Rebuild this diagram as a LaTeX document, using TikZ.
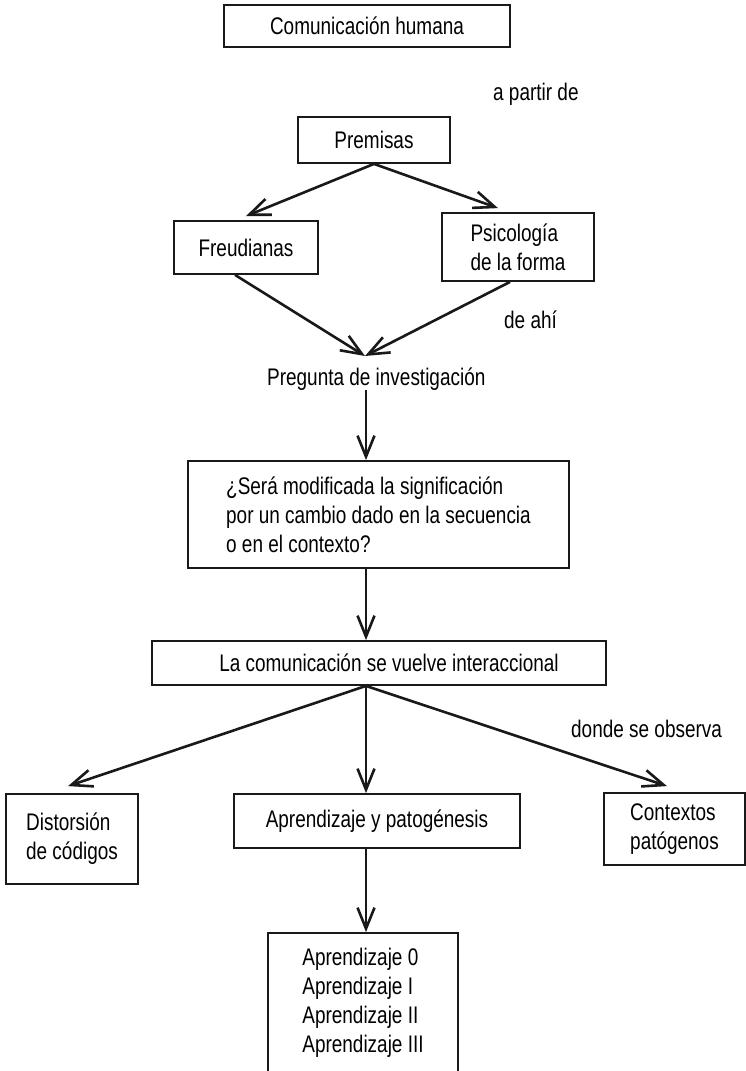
\documentclass[tikz,border=0pt]{standalone}
\usepackage{fontspec}
\setmainfont{Liberation Sans}[FakeStretch=0.79]
\usetikzlibrary{arrows.meta,calc}

\begin{document}
\begin{tikzpicture}[x=1pt,y=-1pt,
  font=\fontsize{24}{29}\selectfont,
  ink/.style={draw=black!90},
  box/.style={ink, line width=1.8pt, inner sep=0pt, align=left},
  lbl/.style={inner sep=0pt, anchor=base west},
  arr/.style={ink, line width=2.6pt,
    -{Straight Barb[length=21pt,width=17pt,line width=2.6pt]}}]

\useasboundingbox (0,0) rectangle (746,1071);
\clip (0,0) rectangle (746,1071);

% vertical spine of the chart and the point where the two premises meet
\coordinate (spine) at (366,0);
\coordinate (meet) at (365,356);

% boxes
\node[box, minimum width=286pt, minimum height=42pt]  (com)   at (367,26)    {Comunicación humana};
\node[box, minimum width=152pt, minimum height=46pt]  (prem)  at (374,140)   {Premisas};
\node[box, minimum width=144pt, minimum height=53pt]  (freud) at (246,247.5) {Freudianas};
\node[box, minimum width=152pt, minimum height=68pt]  (psico) at (518,247)   {Psicología\\de la forma};
\node[box, minimum width=381pt, minimum height=107pt] (sera)  at (378.5,514.5)
  {¿Será modificada la significación\\por un cambio dado en la secuencia\\o en el contexto?};
\node[box, minimum width=454pt, minimum height=44pt]  (inter) at (379,663)   {\hspace*{20pt}La comunicación se vuelve interaccional};
\node[box, minimum width=132pt, minimum height=90pt]  (dist)  at (72,839)    {Distorsión\\de códigos};
\node[box, minimum width=286pt, minimum height=54pt]  (apren) at (377,821)   {Aprendizaje y patogénesis};
\node[box, minimum width=141pt, minimum height=72pt]  (ctx)   at (674.5,829) {Contextos\\patógenos};
\node[box, minimum width=190pt, minimum height=140pt] (final) at (363,1003)
  {Aprendizaje 0\\Aprendizaje I\\Aprendizaje II\\Aprendizaje III};

% free labels
\node[lbl] (apartir) at (493,100) {a partir de};
\node[lbl] (deahi)   at (504,328) {de ahí};
\node[lbl] (preg)    at (267,385) {Pregunta de investigación};
\node[lbl] (donde)   at (571,737) {donde se observa};

% connectors
\draw[arr] (prem.south) -- ([yshift=4pt]freud.north);
\draw[arr] (prem.south) -- ([xshift=-20pt,yshift=4pt]psico.north);
\draw[arr] ([xshift=-11pt]freud.south) -- (meet);
\draw[arr] ([xshift=-8pt]psico.south) -- (meet);
\draw[arr] (preg.south -| spine) -- (sera.north -| spine);
\draw[arr] (sera.south -| spine) -- (inter.north -| spine);
\draw[arr] (inter.south -| spine) -- ([xshift=-4pt,yshift=7pt]dist.north);
\draw[arr] (inter.south -| spine) -- (apren.north -| spine);
\draw[arr] (inter.south -| spine) -- ([xshift=-7.5pt,yshift=6pt]ctx.north);
\draw[arr] (apren.south -| spine) -- (final.north -| spine);
\end{tikzpicture}
\end{document}
